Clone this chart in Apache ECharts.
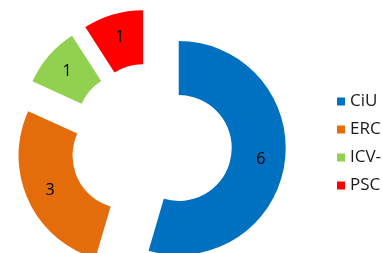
<!doctype html>
<html lang="en">
<head>
  <meta charset="UTF-8">
  <title>Pie</title>
  <style>
    html, body { margin: 0; padding: 0; background: #fff; }
  </style>
</head>
<body>
<div id="main" style="width: 382px;height: 253px"></div>
<script src="https://cdn.jsdelivr.net/npm/echarts@6/dist/echarts.min.js"></script>
<script>
    var parties = ['CiU', 'ERC', 'ICV-EUiA', 'PSC'];
    var seats = [6, 3, 1, 1];
    var colors = ['#0070C0', '#E46C0A', '#92D050', '#FF0000'];

    var myCharts = echarts.init(document.querySelector('#main'));

    var pieData = [];
    for (var i = 0; i < parties.length; i++) {
        pieData.push({
            name: parties[i],
            value: seats[i],
            selected: true,
            itemStyle: {color: colors[i]}
        });
    }

    myCharts.setOption({
        animation: false,
        legend: {
            orient: 'vertical',
            left: 337,
            top: 93,
            padding: 0,
            itemWidth: 8,
            itemHeight: 8,
            itemGap: 11,
            icon: 'rect',
            selectedMode: false,
            textStyle: {
                fontFamily: 'Open Sans',
                fontSize: 17,
                color: '#1a1a1a'
            }
        },
        series: [
            {
                type: 'pie',
                center: [151, 144],
                radius: [53, 107],
                startAngle: 90,
                clockwise: true,
                selectedMode: 'multiple',
                selectedOffset: 28,
                avoidLabelOverlap: false,
                label: {
                    show: true,
                    position: 'inside',
                    formatter: '{c}',
                    fontFamily: 'Open Sans',
                    fontSize: 16,
                    color: '#000',
                    offset: [1, 3]
                },
                labelLine: {show: false},
                emphasis: {disabled: true},
                data: pieData
            }
        ]
    });
</script>
</body>
</html>
